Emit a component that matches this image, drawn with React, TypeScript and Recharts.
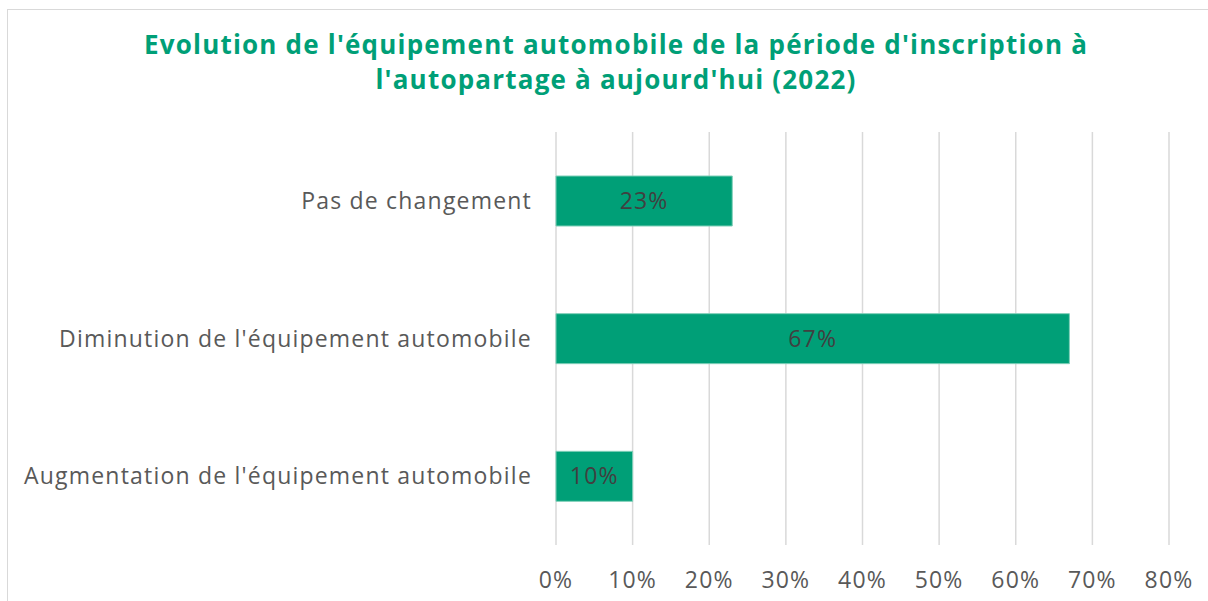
import React from 'react';
import { BarChart, Bar, XAxis, YAxis, CartesianGrid, LabelList } from 'recharts';

// Chart data
const categories = [
  'Pas de changement',
  "Diminution de l'équipement automobile",
  "Augmentation de l'équipement automobile",
];
const shares = [0.23, 0.67, 0.1];
const xTicks = [0, 0.1, 0.2, 0.3, 0.4, 0.5, 0.6, 0.7, 0.8];

const rows = categories.map((name, i) => ({ name, value: shares[i] }));

const GREEN = '#009f77';
const FONT = "'Open Sans', sans-serif";
const pct = (v: number) => `${Math.round(v * 100)}%`;

export default function App() {
  return (
    <div style={{ position: 'absolute', left: 0, top: 0, width: 1208, height: 601, background: '#fff', fontFamily: FONT }}>
      <div style={{ position: 'absolute', left: 7, top: 9, width: 1210, height: 600, border: '1px solid #d9d9d9', boxSizing: 'border-box' }} />
      <div style={{
        position: 'absolute', left: 0, top: 27, width: 1232, textAlign: 'center',
        color: GREEN, fontWeight: 700, fontSize: 26, lineHeight: '35px', letterSpacing: 1.2,
      }}>
        Evolution de l'équipement automobile de la période d'inscription à<br />
        l'autopartage à aujourd'hui (2022)
      </div>
      <BarChart
        width={1208}
        height={601}
        data={rows}
        layout="vertical"
        margin={{ top: 132, right: 39, left: 0, bottom: 0 }}
        barCategoryGap={44}
        style={{ position: 'absolute', left: 0, top: 0 }}
      >
        <CartesianGrid horizontal={false} stroke="#d9d9d9" strokeWidth={1.5} />
        <XAxis
          type="number"
          domain={[0, 0.8]}
          ticks={xTicks}
          tickFormatter={pct}
          axisLine={false}
          tickLine={false}
          height={56}
          interval={0}
          tick={{ fill: '#595959', fontSize: 23, fontFamily: FONT, letterSpacing: 1.2, dy: 19 }}
        />
        <YAxis
          type="category"
          dataKey="name"
          width={556}
          axisLine={false}
          tickLine={false}
          tick={{ fill: '#595959', fontSize: 23, fontFamily: FONT, letterSpacing: 1.2, dx: -16 }}
        />
        <Bar dataKey="value" fill={GREEN} stroke="#7fcfb8" strokeWidth={1} isAnimationActive={false}>
          <LabelList dataKey="value" position="center" formatter={(v: any) => pct(v)} fill="#404040" fontSize={23} fontFamily={FONT} letterSpacing={1.2} />
        </Bar>
      </BarChart>
    </div>
  );
}
